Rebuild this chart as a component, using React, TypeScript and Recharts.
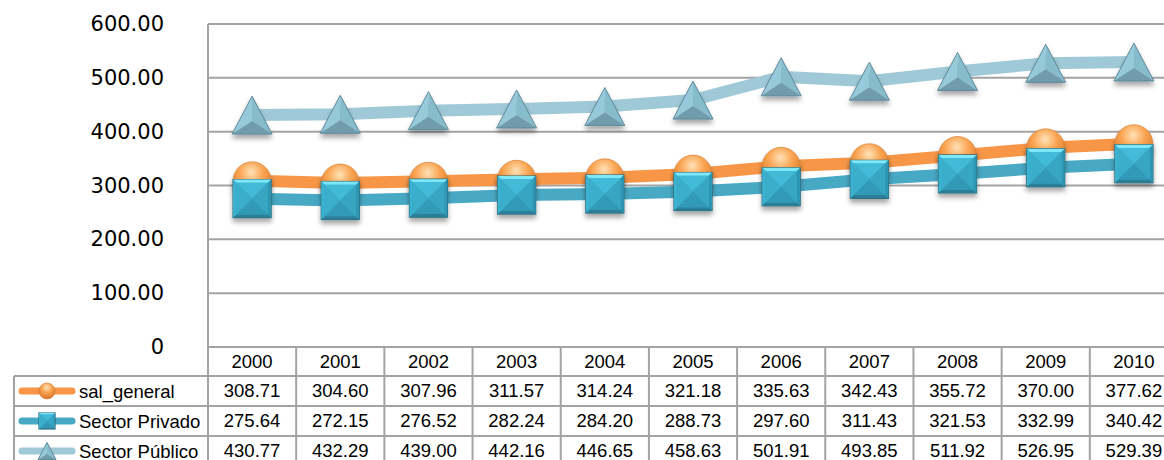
import React from "react";
import { LineChart, Line, XAxis, YAxis, CartesianGrid } from "recharts";

const years = ["2000", "2001", "2002", "2003", "2004", "2005", "2006", "2007", "2008", "2009", "2010"];
const salGeneral = [308.71, 304.6, 307.96, 311.57, 314.24, 321.18, 335.63, 342.43, 355.72, 370.0, 377.62];
const sectorPrivado = [275.64, 272.15, 276.52, 282.24, 284.2, 288.73, 297.6, 311.43, 321.53, 332.99, 340.42];
const sectorPublico = [430.77, 432.29, 439.0, 442.16, 446.65, 458.63, 501.91, 493.85, 511.92, 526.95, 529.39];
const yTicks = [0, 100, 200, 300, 400, 500, 600];
const seriesNames = ["sal_general", "Sector Privado", "Sector Público"];

const data = years.map((year, i) => ({
  year,
  sal: salGeneral[i],
  priv: sectorPrivado[i],
  pub: sectorPublico[i],
}));

const GRID = "#a3a3a3";
const ORANGE = "#f79646";
const TEAL = "#48a9c4";
const LIGHT = "#a0c9d7";
const COL = 88.18;
const TABLE_FONT = "'Liberation Sans', Arial, sans-serif";

function Sphere({ cx, cy, r = 19 }: { cx: number; cy: number; r?: number }) {
  return <circle cx={cx} cy={cy} r={r} fill="url(#sphereGrad)" stroke="#d07a30" strokeWidth={0.6} />;
}

function Cube({ cx, cy, h = 19 }: { cx: number; cy: number; h?: number }) {
  const b = Math.max(1.5, h * 0.17);
  const l = cx - h, r = cx + h, t = cy - h, btm = cy + h;
  const il = l + b, ir = r - b, it = t + b, ib = btm - b;
  return (
    <g>
      <rect x={l} y={t} width={2 * h} height={2 * h} fill="#35a8c6" stroke="#2a6a7c" strokeWidth={1.2} />
      <polygon points={`${l},${t} ${r},${t} ${ir},${it} ${il},${it}`} fill="#7fe8f8" />
      <polygon points={`${l},${btm} ${r},${btm} ${ir},${ib} ${il},${ib}`} fill="#2b7f97" />
      <polygon points={`${l},${t} ${il},${it} ${il},${ib} ${l},${btm}`} fill="#3cb2cf" />
      <polygon points={`${r},${t} ${ir},${it} ${ir},${ib} ${r},${btm}`} fill="#2e96b2" />
      <polygon points={`${il},${it} ${ir},${it} ${cx},${cy}`} fill="#43bad8" />
      <polygon points={`${il},${ib} ${ir},${ib} ${cx},${cy}`} fill="#3199b6" />
      <polygon points={`${il},${it} ${il},${ib} ${cx},${cy}`} fill="#3aaecc" />
      <polygon points={`${ir},${it} ${ir},${ib} ${cx},${cy}`} fill="#37a6c3" />
    </g>
  );
}

function Pyramid({ cx, cy, s = 20 }: { cx: number; cy: number; s?: number }) {
  const ax = cx, ay = cy - s * 0.95;
  const lx = cx - s, rx = cx + s, by = cy + s * 0.95;
  const mx = cx, my = cy + s * 0.3;
  return (
    <g>
      <polygon points={`${ax},${ay} ${lx},${by} ${mx},${my}`} fill="#96cada" />
      <polygon points={`${ax},${ay} ${rx},${by} ${mx},${my}`} fill="#87bccd" />
      <polygon points={`${lx},${by} ${rx},${by} ${mx},${my}`} fill="#6f9cad" />
      <polygon points={`${ax},${ay} ${lx},${by} ${rx},${by}`} fill="none" stroke="#5e8a9a" strokeWidth={1} />
    </g>
  );
}

const sphereDot = (p: any) => (
  <g key={`s${p.index}`} filter="url(#mshadow)">
    <Sphere cx={p.cx} cy={p.cy} />
  </g>
);
const cubeDot = (p: any) => (
  <g key={`c${p.index}`} filter="url(#mshadow)">
    <Cube cx={p.cx} cy={p.cy} />
  </g>
);
const pyramidDot = (p: any) => (
  <g key={`p${p.index}`} filter="url(#mshadow)">
    <Pyramid cx={p.cx} cy={p.cy} />
  </g>
);

function YTick(props: any) {
  const { x, y, payload } = props;
  const v = Number(payload.value);
  return (
    <text x={x} y={y} textAnchor="end" dominantBaseline="central" fontFamily="'DejaVu Sans', sans-serif" fontSize={21} fill="#000">
      {v === 0 ? "0" : v.toFixed(2)}
    </text>
  );
}

const rowColors = [ORANGE, TEAL, LIGHT];
const rowValues = [salGeneral, sectorPrivado, sectorPublico];

function LegendColumn({ top, right }: { top: number; right: number }) {
  const left = 14;
  return (
    <g>
      <line x1={left} y1={top + 29} x2={left} y2={top + 119} stroke={GRID} strokeWidth={2} />
      {seriesNames.map((name, k) => {
        const rt = top + 29 + k * 30;
        const cy = rt + 15;
        return (
          <g key={name}>
            <line x1={left} y1={rt} x2={right} y2={rt} stroke={GRID} strokeWidth={2} />
            <line x1={22} y1={cy} x2={72} y2={cy} stroke={rowColors[k]} strokeWidth={7} strokeLinecap="round" />
            {k === 0 && <Sphere cx={47} cy={cy} r={8} />}
            {k === 1 && <Cube cx={47} cy={cy} h={8} />}
            {k === 2 && <Pyramid cx={47} cy={cy} s={9} />}
            <text x={79} y={cy} dominantBaseline="central" fontFamily={TABLE_FONT} fontSize={18.5} fill="#000">
              {name}
            </text>
          </g>
        );
      })}
    </g>
  );
}

function TableTick(props: any) {
  const { x, y, payload } = props;
  const i = payload.index;
  const left = x - COL / 2;
  const right = x + COL / 2;
  return (
    <g>
      {i === 0 && <line x1={left} y1={y} x2={left} y2={y + 119} stroke={GRID} strokeWidth={2} />}
      <line x1={right} y1={y} x2={right} y2={y + 119} stroke={GRID} strokeWidth={2} />
      <text x={x} y={y + 14.5} textAnchor="middle" dominantBaseline="central" fontFamily={TABLE_FONT} fontSize={18.5} fill="#000">
        {payload.value}
      </text>
      {rowValues.map((vals, k) => {
        const rt = y + 29 + k * 30;
        return (
          <g key={k}>
            <line x1={left} y1={rt} x2={right} y2={rt} stroke={GRID} strokeWidth={2} />
            <text x={x} y={rt + 14.5} textAnchor="middle" dominantBaseline="central" fontFamily={TABLE_FONT} fontSize={18.5} fill="#000">
              {vals[i].toFixed(2)}
            </text>
          </g>
        );
      })}
      {i === 0 && <LegendColumn top={y} right={left} />}
    </g>
  );
}

export default function App() {
  return (
    <div style={{ position: "fixed", left: 0, top: 0, width: 1164, height: 460, overflow: "hidden", background: "#fff" }}>
      <LineChart width={1182} height={470} data={data} margin={{ top: 24, right: 4, bottom: 5, left: 0 }}>
        <defs>
          <radialGradient id="sphereGrad" cx="48%" cy="28%" r="70%">
            <stop offset="0%" stopColor="#ffe2b8" />
            <stop offset="45%" stopColor="#fba552" />
            <stop offset="100%" stopColor="#d9762a" />
          </radialGradient>
          <filter id="mshadow" x="-50%" y="-50%" width="200%" height="220%">
            <feDropShadow dx="0" dy="4" stdDeviation="2.5" floodColor="#000" floodOpacity="0.35" />
          </filter>
        </defs>
        <CartesianGrid vertical={false} stroke={GRID} strokeWidth={2} />
        <XAxis
          dataKey="year"
          height={118}
          interval={0}
          padding={{ left: COL / 2, right: COL / 2 }}
          tickSize={0}
          tickMargin={0}
          axisLine={{ stroke: GRID, strokeWidth: 2 }}
          tickLine={false}
          tick={<TableTick />}
        />
        <YAxis
          width={208}
          domain={[0, 600]}
          ticks={yTicks}
          tickSize={0}
          tickMargin={44}
          axisLine={{ stroke: GRID, strokeWidth: 2 }}
          tickLine={false}
          tick={<YTick />}
        />
        <Line dataKey="sal" name={seriesNames[0]} stroke={ORANGE} strokeWidth={12} dot={sphereDot} activeDot={false} isAnimationActive={false} />
        <Line dataKey="priv" name={seriesNames[1]} stroke={TEAL} strokeWidth={12} dot={cubeDot} activeDot={false} isAnimationActive={false} />
        <Line dataKey="pub" name={seriesNames[2]} stroke={LIGHT} strokeWidth={12} dot={pyramidDot} activeDot={false} isAnimationActive={false} />
      </LineChart>
    </div>
  );
}
